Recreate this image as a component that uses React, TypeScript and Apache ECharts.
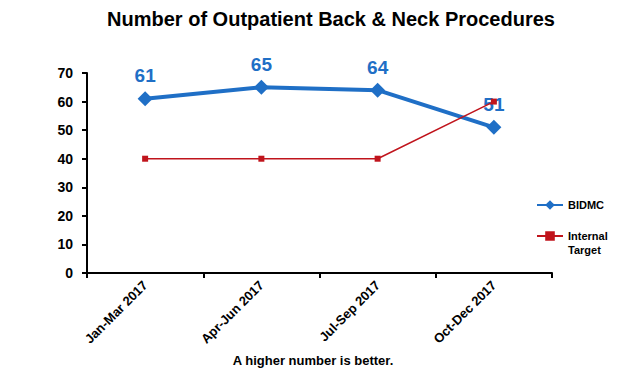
import React, { useEffect, useRef } from "react";
import * as echarts from "echarts";

const categories = ["Jan-Mar 2017", "Apr-Jun 2017", "Jul-Sep 2017", "Oct-Dec 2017"];
const bidmc = [61, 65, 64, 51];
const internalTarget = [40, 40, 40, 60];
const yTicks = { min: 0, max: 70, interval: 10 };

const FONT = "'Liberation Sans', Arial, sans-serif";
const BLUE = "#1F6FC6";
const RED = "#C0141C";

export default function App() {
  const ref = useRef<HTMLDivElement>(null);
  useEffect(() => {
    const chart = echarts.init(ref.current!, null, { renderer: "svg" });
    chart.setOption({
      animation: false,
      backgroundColor: "#ffffff",
      title: {
        text: "Number of Outpatient Back & Neck Procedures",
        left: 326,
        textAlign: "center",
        top: 4,
        textStyle: { fontFamily: FONT, fontSize: 20, fontWeight: "bold", color: "#000" },
      },
      graphic: [
        {
          type: "text",
          x: 313,
          y: 354,
          style: {
            text: "A higher number is better.",
            font: `bold 13px ${FONT}`,
            fill: "#000",
            textAlign: "center",
          },
        },
      ],
      legend: {
        orient: "vertical",
        left: 531,
        top: 193,
        itemGap: 3,
        itemWidth: 26,
        itemHeight: 12,
        textStyle: { fontFamily: FONT, fontSize: 11, fontWeight: "bold", color: "#000", lineHeight: 14 },
        formatter: (n: string) => (n === "Internal Target" ? "\nInternal\nTarget" : n),
        data: ["BIDMC", "Internal Target"],
      },
      grid: { left: 87, right: 68, top: 73, bottom: 101 },
      xAxis: {
        type: "category",
        data: categories,
        boundaryGap: true,
        axisLine: { lineStyle: { color: "#000", width: 2 } },
        axisTick: { show: true, length: 5, lineStyle: { color: "#000", width: 2 } },
        axisLabel: {
          rotate: 45,
          fontFamily: FONT,
          fontSize: 13,
          fontWeight: "bold",
          color: "#000",
          margin: 10,
        },
      },
      yAxis: {
        type: "value",
        min: yTicks.min,
        max: yTicks.max,
        interval: yTicks.interval,
        splitLine: { show: false },
        axisLine: { show: true, lineStyle: { color: "#000", width: 2 } },
        axisTick: { show: true, length: 5, lineStyle: { color: "#000", width: 2 } },
        axisLabel: { fontFamily: FONT, fontSize: 14, fontWeight: "bold", color: "#000", margin: 14 },
      },
      series: [
        {
          name: "BIDMC",
          type: "line",
          data: bidmc,
          color: BLUE,
          lineStyle: { color: BLUE, width: 4 },
          symbol: "diamond",
          symbolSize: 15,
          itemStyle: { color: BLUE },
          label: {
            show: true,
            position: "top",
            distance: 6,
            fontFamily: FONT,
            fontSize: 19,
            fontWeight: "bold",
            color: BLUE,
          },
          z: 3,
        },
        {
          name: "Internal Target",
          type: "line",
          data: internalTarget,
          color: RED,
          lineStyle: { color: RED, width: 1.5 },
          symbol: "rect",
          symbolSize: 6,
          itemStyle: { color: RED },
          z: 4,
        },
      ],
    });
    return () => chart.dispose();
  }, []);
  return (
    <div
      ref={ref}
      style={{ position: "fixed", left: 0, top: 0, width: 620, height: 374 }}
    />
  );
}
